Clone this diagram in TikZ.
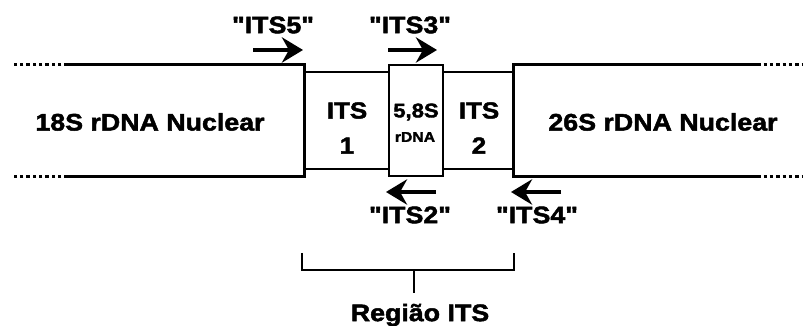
\documentclass[tikz,border=0pt]{standalone}
\usepackage{fontspec}
\setmainfont{Liberation Sans}[Ligatures=TeXOff, FakeStretch=1.12, BoldFeatures={FakeBold=2}]
\usetikzlibrary{arrows.meta}
\tikzset{
  bigbox/.style={minimum height=2.775cm, inner sep=0pt},
  smallbox/.style={draw, line width=2pt, minimum height=2.425cm, inner sep=0pt},
  lbl/.style={font=\fontsize{17}{20}\selectfont\bfseries, inner sep=0pt},
  boxlbl/.style={font=\fontsize{16.5}{25}\selectfont\bfseries, inner sep=0pt, align=center},
  primer/.style={line width=3.4pt, -{Stealth[length=15pt, width=18pt, inset=5pt]}},
  segline/.style={line width=2pt},
  dotline/.style={line width=2pt, dash pattern=on 2.5pt off 2pt},
  brace/.style={line width=1.6pt},
}

\begin{document}
\begin{tikzpicture}[x=0.025cm, y=-0.025cm]
    \useasboundingbox (0,0) rectangle (804,326);
    % segments of the rDNA
    \node[bigbox, minimum width=5.9cm] (s18) at (186,120.5) {};
    \node[bigbox, minimum width=6.075cm] (s26) at (635.5,120.5) {};
    \node[smallbox, minimum width=2.125cm] (its1) at (346.5,120.5) {};
    \node[smallbox, minimum width=1.35cm, minimum height=2.775cm] (s58) at (416,120.5) {};
    \node[smallbox, minimum width=1.775cm] (its2) at (478.5,120.5) {};
    \draw[segline] (s18.north west) -- (s18.north east) -- (s18.south east) -- (s18.south west);
    \draw[segline] (s26.north east) -- (s26.north west) -- (s26.south west) -- (s26.south east);
    \draw[dotline] (s18.north west) -- ++(-56,0);
    \draw[dotline] (s18.south west) -- ++(-56,0);
    \draw[dotline] (s26.north east) -- ++(46,0);
    \draw[dotline] (s26.south east) -- ++(46,0);
    % texts in the boxes
    \node[lbl] (t18) at (150,122) {18S rDNA Nuclear};
    \node[lbl] (t26) at (663,122) {26S rDNA Nuclear};
    \node[boxlbl] (t1) at (347,128) {ITS\\1};
    \node[boxlbl] (t2) at (479,128) {ITS\\2};
    \node[font=\fontsize{14}{14}\selectfont\bfseries, inner sep=0pt] (t58) at (416,112) {5,8S};
    \node[font=\fontsize{10}{10}\selectfont\bfseries, inner sep=0pt] (trd) at (415,137) {rDNA};
    % primers
    \coordinate (f5) at (253,50);  \coordinate (h5) at (303,50);
    \coordinate (f3) at (388,50);  \coordinate (h3) at (437,50);
    \coordinate (f2) at (436,192); \coordinate (h2) at (386,192);
    \coordinate (f4) at (561,192); \coordinate (h4) at (511,192);
    \draw[primer] (f5) -- (h5);
    \draw[primer] (f3) -- (h3);
    \draw[primer] (f2) -- (h2);
    \draw[primer] (f4) -- (h4);
    \node[lbl] (p5) at (273,25) {"ITS5"};
    \node[lbl] (p3) at (410,25) {"ITS3"};
    \node[lbl] (p2) at (410,215) {"ITS2"};
    \node[lbl] (p4) at (537,215) {"ITS4"};
    % bracket for the ITS region
    \coordinate (bl) at (302,253);
    \coordinate (br) at (514,253);
    \coordinate (bm) at (414,270);
    \draw[brace] (bl) -- (bl |- bm) -- (br |- bm) -- (br);
    \node[lbl] (reg) at (420,315) {Região ITS};
    \draw[brace] (bm) -- ++(0,23);
\end{tikzpicture}
\end{document}
